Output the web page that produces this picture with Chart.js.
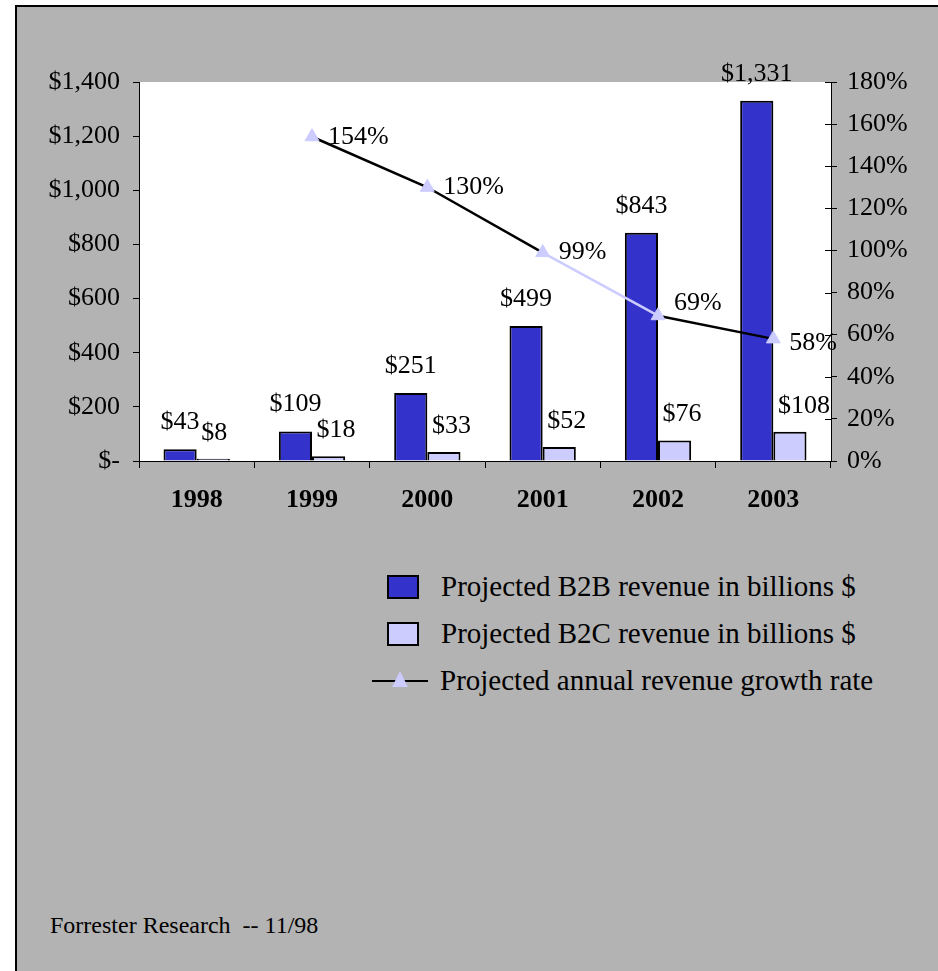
<!DOCTYPE html>
<html>
<head>
<meta charset="utf-8">
<script src="https://cdn.jsdelivr.net/npm/chart.js@4.4.0/dist/chart.umd.min.js"></script>
<style>
  body { margin: 0; background: #fff; font-family: "Liberation Serif", "Times New Roman", serif; overflow: hidden; }
  #fond { position: absolute; left: 15px; top: 5px; width: 921px; height: 964px; background: #b3b3b3; border-left: 2px solid #000; border-top: 2px solid #000; }
  #grafico { position: absolute; left: 0; top: 0; }
  #legenda { position: absolute; left: 372px; top: 563px; font-size: 29px; color: #000; }
  .item { height: 47px; display: flex; align-items: center; }
  .caixa { width: 28px; height: 20px; border: 2px solid #000; margin: 0 22px 0 15px; }
  .marca { position: relative; width: 56px; height: 20px; margin-right: 12px; }
  .marca .traco { position: absolute; left: 0; top: 9px; width: 56px; height: 2px; background: #000; }
  .marca .tri { position: absolute; left: 20px; top: 0; width: 0; height: 0; border-left: 8px solid transparent; border-right: 8px solid transparent; border-bottom: 16px solid #ccccff; }
  #fonte { position: absolute; left: 50px; top: 912px; font-size: 24px; }
</style>
</head>
<body>
<div id="fond"></div>
<canvas id="grafico" width="938" height="540"></canvas>
<div id="legenda">
  <div class="item"><div class="caixa" style="background:#3333cc"></div>Projected B2B revenue in billions $</div>
  <div class="item"><div class="caixa" style="background:#ccccff"></div>Projected B2C revenue in billions $</div>
  <div class="item"><div class="marca"><div class="traco"></div><div class="tri"></div></div>Projected annual revenue growth rate</div>
</div>
<div id="fonte">Forrester Research&nbsp; -- 11/98</div>
<script>
var anos = ["1998", "1999", "2000", "2001", "2002", "2003"];
var receitaB2B = [43, 109, 251, 499, 843, 1331];
var receitaB2C = [8, 18, 33, 52, 76, 108];
var crescimento = [null, 154, 130, 99, 69, 58];
var ticksDolar = ["$-", "$200", "$400", "$600", "$800", "$1,000", "$1,200", "$1,400"];
var ticksPct = ["0%", "20%", "40%", "60%", "80%", "100%", "120%", "140%", "160%", "180%"];

// cor de cada trecho da linha e ajuste vertical dos rotulos da linha
var coresTrecho = ["#000", "#000", "#000", "#ccccff", "#000"];
var ajusteRotulo = [0, 0, 0, 0, -13, 4];

var fonte = '"Liberation Serif", "Times New Roman", serif';

const fundoArea = {
  id: "fundoArea",
  beforeDraw(chart) {
    const a = chart.chartArea;
    chart.ctx.save();
    chart.ctx.fillStyle = "#fff";
    chart.ctx.fillRect(a.left, a.top, a.right - a.left, a.bottom - a.top);
    chart.ctx.restore();
  },
  afterDraw(chart) {
    // parte interna dos ticks do eixo da direita
    const s = chart.scales.y1;
    const ctx = chart.ctx;
    ctx.save();
    ctx.strokeStyle = "#000";
    ctx.lineWidth = 1;
    s.ticks.forEach((t) => {
      const y = Math.round(s.getPixelForValue(t.value)) + 0.5;
      ctx.beginPath();
      ctx.moveTo(s.left - 6, y);
      ctx.lineTo(s.left, y);
      ctx.stroke();
    });
    ctx.restore();
  },
};

const rotulos = {
  id: "rotulos",
  afterDatasetsDraw(chart) {
    const ctx = chart.ctx;
    ctx.save();
    ctx.font = "26px " + fonte;
    ctx.fillStyle = "#000";
    ctx.textBaseline = "middle";
    chart.data.datasets.forEach((ds, i) => {
      const meta = chart.getDatasetMeta(i);
      meta.data.forEach((el, j) => {
        const v = ds.data[j];
        if (v == null) return;
        if (ds.type === "line") {
          ctx.textAlign = "left";
          ctx.fillText(v + "%", el.x + 16, el.y + ajusteRotulo[j]);
        } else if (i === 0) {
          ctx.textAlign = "center";
          ctx.fillText("$" + v.toLocaleString("en-US"), el.x, el.y - 27);
        } else {
          ctx.textAlign = "left";
          ctx.fillText("$" + v.toLocaleString("en-US"), el.x - 12, el.y - 26);
        }
      });
    });
    ctx.restore();
  },
};

const data = {
  labels: anos,
  datasets: [
    {
      type: "bar",
      label: "Projected B2B revenue in billions $",
      data: receitaB2B,
      backgroundColor: "#3333cc",
      borderColor: "#000",
      borderWidth: 2,
      yAxisID: "y",
      order: 1,
    },
    {
      type: "bar",
      label: "Projected B2C revenue in billions $",
      data: receitaB2C,
      backgroundColor: "#ccccff",
      borderColor: "#000",
      borderWidth: 2,
      yAxisID: "y",
      order: 1,
    },
    {
      type: "line",
      label: "Projected annual revenue growth rate",
      data: crescimento,
      yAxisID: "y1",
      borderColor: "#000",
      borderWidth: 2.5,
      segment: {
        borderColor: (c) => coresTrecho[c.p0DataIndex],
      },
      pointStyle: "triangle",
      pointRadius: 8,
      pointBackgroundColor: "#ccccff",
      pointBorderColor: "#ccccff",
      pointBorderWidth: 1,
      tension: 0,
      order: 0,
    },
  ],
};

const config = {
  data: data,
  plugins: [fundoArea, rotulos],
  options: {
    responsive: false,
    animation: false,
    devicePixelRatio: 1,
    layout: { padding: { top: 82, left: 0, right: 0, bottom: 0 } },
    datasets: { bar: { categoryPercentage: 0.575, barPercentage: 1 } },
    plugins: { legend: { display: false }, tooltip: { enabled: false } },
    scales: {
      x: {
        afterFit: (s) => { s.height = 79; },
        grid: { offset: true, drawOnChartArea: false, color: "#000", tickLength: 7 },
        border: { color: "#000", width: 1 },
        ticks: { color: "#000", padding: 17, font: { family: fonte, size: 26, weight: "bold" } },
      },
      y: {
        position: "left",
        min: 0,
        max: 1400,
        afterFit: (s) => { s.width = 139; },
        grid: { drawOnChartArea: false, color: "#000", tickLength: 6 },
        border: { color: "#000", width: 1 },
        ticks: {
          stepSize: 200,
          color: "#000",
          padding: 13,
          font: { family: fonte, size: 26 },
          callback: (v, i) => ticksDolar[i],
        },
      },
      y1: {
        position: "right",
        min: 0,
        max: 180,
        afterFit: (s) => { s.width = 107; },
        grid: { drawOnChartArea: false, color: "#000", tickLength: 6 },
        border: { color: "#000", width: 1 },
        ticks: {
          stepSize: 20,
          color: "#000",
          padding: 10,
          font: { family: fonte, size: 26 },
          callback: (v, i) => ticksPct[i],
        },
      },
    },
  },
};

new Chart(document.getElementById("grafico"), config);
</script>
</body>
</html>
